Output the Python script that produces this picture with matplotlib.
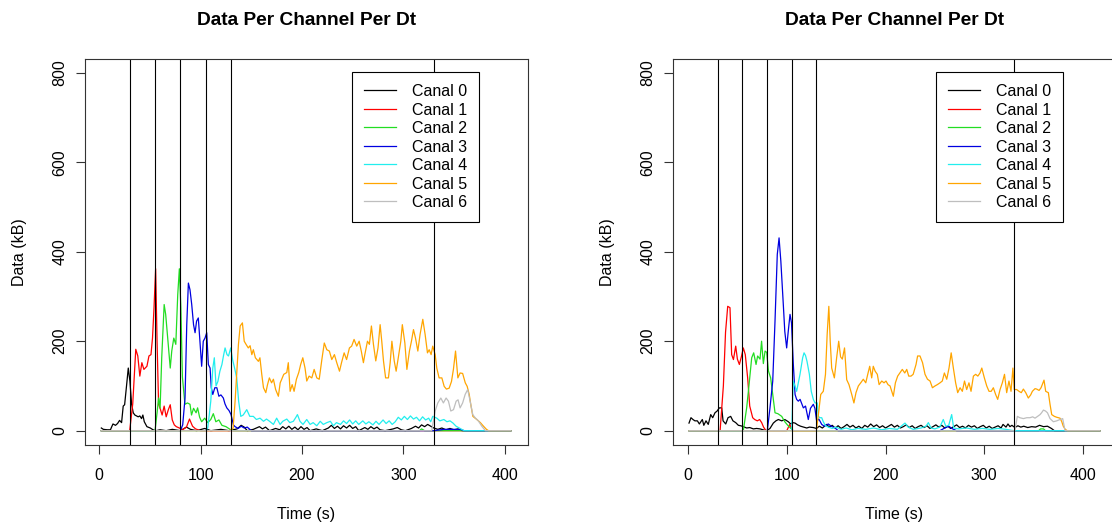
import matplotlib
matplotlib.use("Agg")
import matplotlib.pyplot as plt

plt.rcParams['font.family'] = ['Liberation Sans', 'DejaVu Sans']

# (time s, data kB) points
left_c0 = [(2, 6), (4, 3), (8, 2), (11, 2), (12.5, 10), (13.5, 15), (16, 12), (18, 16), (20, 23), (22, 18),
           (23.6, 55), (25, 58), (27, 103), (28.6, 140), (30.2, 111), (31.9, 59), (33.5, 40), (35.1, 35),
           (38.4, 31), (40, 33), (41.7, 27), (43, 35), (44.4, 20), (47, 9), (50.3, 6), (53, 2), (56, 0),
           (60, 2), (66, 0), (72, 3), (80, 0), (86, 8), (90, 3), (96, 0), (104, 5), (110, 0), (120, 3),
           (128, 0), (136, 4), (140, 12), (143, 8), (146, 0), (152, 3), (158, 9), (161, 4), (164, 8),
           (168, 0), (174, 5), (178, 2), (181, 9), (184, 4), (187, 10), (190, 3), (193, 8), (196, 2),
           (199, 9), (202, 3), (205, 7), (208, 0), (214, 4), (220, 0), (226, 6), (229, 12), (232, 5),
           (235, 10), (238, 4), (241, 11), (244, 6), (247, 12), (250, 5), (253, 9), (256, 0), (262, 7),
           (265, 3), (268, 9), (271, 4), (274, 8), (277, 2), (282, 0), (290, 4), (294, 7), (298, 2),
           (302, 0), (308, 5), (312, 10), (315, 6), (318, 13), (321, 9), (324, 14), (327, 10), (330, 6),
           (334, 3), (338, 6), (342, 2), (346, 5), (350, 2), (354, 4), (358, 0), (406, 0)]
left_c1 = [(2, 0), (30, 0), (33, 60), (36, 182), (38, 167), (40, 122), (42, 152), (44, 137), (47, 144),
           (49, 167), (51, 170), (52.5, 207), (54, 275), (55.6, 362), (57, 200), (58.5, 59), (60, 50),
           (62, 35), (64, 55), (66, 31), (68, 46), (70, 58), (72, 24), (74, 13), (76, 9), (79, 6), (82, 2),
           (86, 8), (89, 26), (92, 10), (95, 4), (100, 0), (406, 0)]
left_c2 = [(2, 0), (55, 0), (57, 40), (58.5, 73), (60, 50), (61.6, 163), (64, 282), (65.5, 260),
           (67.5, 207), (70, 140), (71.5, 178), (73.5, 207), (75.5, 193), (77.4, 304), (79, 362),
           (80.5, 275), (82, 120), (84.5, 59), (87, 62), (89.5, 59), (91, 35), (93, 50), (95.5, 40),
           (97, 51), (99, 30), (101, 20), (104, 28), (107, 18), (110, 25), (112.5, 38), (115, 20),
           (118, 24), (121, 12), (125, 9), (129, 3), (132, 0), (316, 0), (318, 4), (321, 0), (406, 0)]
left_c3 = [(2, 0), (80, 0), (82.3, 13), (84.6, 73), (86.3, 237), (87.9, 330), (89.5, 315), (91.2, 282),
           (93, 237), (94.5, 219), (96, 245), (97.7, 252), (99.3, 200), (101, 144), (102.6, 200),
           (104.3, 207), (106, 219), (107.6, 148), (109.3, 140), (110.5, 96), (112, 81), (114, 96),
           (116, 96), (118, 77), (120, 80), (122.4, 73), (124, 60), (125.8, 51), (128, 45), (130, 36),
           (132.3, 13), (134, 9), (137, 5), (140, 10), (143, 6), (146, 8), (150, 0), (330, 0), (340, 3),
           (356, 3), (360, 0), (406, 0)]
left_c4 = [(2, 0), (105, 0), (107, 6), (108.5, 35), (110, 66), (112, 140), (113.5, 163), (115.2, 100),
           (117, 110), (119, 133), (121, 148), (122.5, 167), (124.1, 185), (126, 170), (127.5, 167),
           (129.7, 185), (131.5, 159), (133.5, 140), (135.6, 118), (137.5, 66), (139.6, 32), (142, 35),
           (145.5, 47), (148.5, 32), (152, 32), (155, 25), (158.6, 28), (162, 21), (165, 26), (168, 21),
           (171.8, 14), (175, 28), (178.4, 14), (181, 21), (185, 26), (188, 18), (191.5, 21), (194, 30),
           (195.5, 36), (198, 21), (201, 14), (204.7, 25), (208, 14), (211, 18), (214.6, 11), (218, 21),
           (221, 14), (224.5, 18), (228, 21), (231, 11), (234, 18), (238, 14), (241, 22), (244, 16),
           (247, 24), (250, 15), (253, 22), (256, 14), (260, 22), (263, 15), (266, 20), (270, 13),
           (273, 21), (276, 14), (280, 24), (283, 16), (286, 22), (289, 14), (292, 20), (295, 30),
           (298, 24), (301, 32), (304, 25), (307, 33), (310, 26), (313, 30), (316, 22), (319, 31),
           (322, 24), (325, 28), (327, 20), (329, 32), (333, 28), (336, 22), (340, 25), (343, 20),
           (346, 22), (349, 17), (352, 10), (356, 5), (360, 0), (406, 0)]
left_c5 = [(2, 0), (128, 0), (132, 5), (134, 66), (137.3, 193), (139, 234), (141.2, 241), (143, 200),
           (144.8, 193), (147, 185), (148.8, 190), (150.5, 170), (152, 181), (154, 163), (157, 155),
           (158.5, 163), (160.3, 126), (162, 96), (164.3, 85), (166, 103), (167.8, 118), (170, 107),
           (171.8, 115), (174, 92), (176.7, 77), (178.5, 107), (180, 115), (182, 126), (185, 130),
           (186.5, 152), (188.3, 88), (190.3, 103), (192.2, 88), (194.5, 115), (196.8, 130), (198.7, 148),
           (200.8, 163), (203, 140), (204.7, 111), (207, 122), (209.7, 118), (212, 137), (214.6, 118),
           (217, 115), (219.6, 159), (222, 196), (224.5, 181), (227, 178), (229.4, 159), (232, 170),
           (234.3, 152), (237, 133), (239, 152), (241.6, 174), (244, 159), (246.8, 185), (249, 189),
           (251.4, 204), (254, 189), (256.4, 200), (258.5, 178), (260.6, 152), (262, 170), (264.6, 200),
           (266.5, 193), (268.5, 234), (270.5, 193), (272.8, 156), (275, 185), (277.1, 237), (278.7, 200),
           (280.4, 156), (282.5, 118), (285.3, 118), (287, 152), (288.7, 200), (291, 156), (292.9, 133),
           (295, 163), (297.5, 200), (299, 237), (301.5, 196), (303.5, 137), (306, 178), (308, 200),
           (310, 226), (312, 207), (314.3, 178), (316.5, 215), (319.2, 249), (321.5, 215), (323.8, 174),
           (325.5, 181), (327.4, 170), (329, 189), (331.4, 170), (333, 140), (335.3, 118), (338, 118),
           (340.3, 99), (342.5, 93), (345.2, 95), (347.5, 110), (349.4, 137), (351.5, 178), (353.8, 118),
           (356, 129), (358.5, 128), (361.1, 107), (363, 99), (365, 81), (366.5, 59), (368.6, 32),
           (372.5, 25), (376, 18), (379.1, 10), (382, 3), (384, 0), (406, 0)]
left_c6 = [(2, 0), (328, 0), (331.4, 44), (334, 62), (337, 73), (339.5, 62), (342.2, 73), (344.5, 66),
           (346.8, 44), (349.5, 47), (352.1, 66), (354, 69), (356, 51), (358.5, 62), (361, 81), (363.5, 92),
           (365.9, 66), (368.5, 36), (370.8, 29), (374, 22), (377.4, 10), (381, 0), (406, 0)]

right_c0 = [(1, 17), (3, 29), (5, 25), (7, 22), (9.5, 22), (11.5, 15), (14.5, 25), (16, 12), (18.2, 22),
            (20.5, 14), (23, 36), (25, 29), (27.3, 40), (29.5, 44), (31.7, 51), (34.1, 51), (35.5, 22),
            (38.2, 15), (40.5, 29), (43.2, 32), (45.5, 22), (48.3, 18), (51, 12), (53.4, 11), (56, 9),
            (59.4, 6), (62.5, 7), (66.2, 4), (69.5, 5), (72.9, 4), (76, 2), (79.7, 0), (83, 5), (85, 12),
            (86.4, 17), (89, 22), (91.5, 25), (94.9, 22), (98, 25), (101.6, 20), (104, 15), (106, 18),
            (108.4, 17), (111, 13), (114, 10), (117, 8), (120.2, 6), (123, 8), (126.9, 7), (130, 5),
            (133, 10), (136, 6), (140.4, 14), (143, 8), (146, 12), (149, 6), (152, 11), (155, 5), (158, 9),
            (161, 14), (164, 8), (167, 12), (170, 6), (173, 10), (176, 5), (179, 12), (182, 8), (185, 15),
            (188, 9), (191, 13), (194, 7), (197, 11), (200, 6), (203, 10), (206, 14), (209, 8), (212, 12),
            (215, 6), (218, 9), (221, 13), (224, 7), (227, 11), (230, 5), (233, 9), (236, 12), (239, 7),
            (242, 11), (245, 5), (248, 9), (251, 13), (254, 8), (257, 12), (260, 6), (263, 10), (266, 5),
            (269, 9), (272, 13), (275, 7), (278, 10), (281, 6), (284, 12), (287, 8), (290, 11), (293, 5),
            (296, 9), (299, 12), (302, 6), (305, 10), (308, 5), (311, 8), (314, 11), (317, 6), (319, 14),
            (322, 8), (324, 15), (326, 9), (328, 12), (331, 7), (334, 11), (337, 8), (340, 10), (344, 7),
            (348, 9), (352, 8), (356, 12), (360, 9), (364, 10), (368, 5), (371, 0), (417, 0)]
right_c1 = [(1, 0), (32.5, 0), (35.8, 100), (38, 220), (40.2, 278), (42.5, 275), (44.2, 170), (46, 159),
            (48.3, 189), (50, 160), (52, 148), (54, 165), (56, 185), (58, 170), (60.4, 118), (62.5, 55),
            (65.5, 29), (67.5, 25), (70.2, 22), (72.5, 25), (74.6, 18), (76.5, 8), (79, 0), (100, 0),
            (103, 14), (106, 0), (417, 0)]
right_c2 = [(1, 0), (56, 0), (59.4, 51), (61.5, 96), (64.5, 163), (66.5, 174), (68.9, 148), (70.5, 167),
            (72.9, 160), (74.5, 200), (76.3, 150), (78, 178), (79.7, 175), (81.5, 133), (83.7, 118),
            (85.8, 81), (88.1, 40), (91, 38), (94.9, 32), (98, 20), (101, 12), (103.3, 7), (106.6, 0),
            (355, 0), (357, 4), (360, 4), (362, 0), (417, 0)]
right_c3 = [(1, 0), (80.3, 0), (83, 51), (85.8, 111), (88.1, 245), (90.4, 394), (92.2, 431), (94, 379),
            (96.5, 282), (98, 222), (99.9, 185), (101.5, 222), (103.3, 260), (104.8, 241), (106.6, 150),
            (108.4, 81), (110, 70), (111.7, 66), (113.5, 70), (116.8, 51), (119, 55), (121.8, 25),
            (124, 50), (126.9, 59), (128.5, 50), (130.3, 21), (132.5, 26), (135.4, 14), (138, 10),
            (142.1, 15), (145, 10), (148.9, 6), (152, 0), (255, 0), (260, 6), (264, 10), (268, 4),
            (272, 0), (417, 0)]
right_c4 = [(1, 0), (105, 0), (106.6, 111), (108.3, 100), (110, 88), (113.4, 126), (116.1, 163),
            (117.5, 174), (119, 168), (120.5, 155), (122.9, 126), (124.8, 88), (126.9, 70), (128.6, 62),
            (130.9, 62), (132, 32), (133.5, 29), (135.4, 29), (137, 20), (139.2, 11), (142.1, 8), (146, 5),
            (150, 8), (155, 3), (160, 6), (166, 2), (172, 5), (180, 3), (188, 6), (196, 2), (204, 5),
            (212, 3), (219.7, 17), (223, 8), (228, 3), (236, 6), (241, 10), (243.4, 18), (246, 6),
            (250, 4), (255, 8), (258.5, 25), (261, 10), (264, 12), (267, 36), (269, 6), (274, 4), (282, 6),
            (290, 3), (298, 5), (306, 3), (314, 5), (322, 3), (330, 0), (417, 0)]
right_c5 = [(1, 0), (130, 0), (132, 36), (134.4, 81), (137, 88), (139.2, 126), (140.9, 215), (142.6, 278),
            (144, 200), (145.5, 140), (148.2, 118), (150.5, 163), (152.6, 200), (154.5, 165), (156.3, 160),
            (158.5, 185), (160.7, 114), (163, 103), (165.8, 81), (168, 62), (170.1, 85), (172.5, 100),
            (174.9, 107), (177.5, 115), (180, 107), (182, 126), (184, 144), (186, 118), (187.6, 144),
            (189.5, 133), (191.7, 126), (193.5, 103), (196.2, 111), (198.5, 107), (200.5, 111),
            (202.5, 103), (204.6, 100), (207.9, 77), (210, 107), (212.3, 122), (214.5, 129), (217, 137),
            (219.5, 129), (221.5, 137), (223.5, 122), (225.8, 122), (228, 126), (230.9, 148), (232.5, 167),
            (234.9, 167), (237.5, 152), (240, 126), (242.5, 115), (245.1, 111), (247.5, 96), (250.1, 100),
            (252.5, 103), (255.2, 107), (257.5, 111), (259.6, 129), (262, 115), (264.3, 140), (266.5, 174),
            (268.7, 140), (271, 107), (273.1, 85), (275.5, 96), (277.8, 88), (280, 111), (282.2, 92),
            (284.5, 107), (286.6, 88), (289, 122), (291.3, 126), (293.5, 122), (295.7, 129), (297.5, 140),
            (300.1, 118), (302.5, 100), (304.8, 88), (307, 88), (309.2, 96), (311.5, 81), (313.6, 70),
            (316, 92), (318.3, 107), (320.5, 126), (322.7, 85), (325, 111), (327.1, 88), (329, 140),
            (330.4, 92), (332.8, 92), (335.2, 88), (337.5, 85), (339.6, 93), (342, 85), (344.6, 73),
            (347, 80), (348.7, 88), (351.4, 94), (353.1, 93), (355.5, 90), (357.5, 96), (360.5, 113),
            (362.2, 88), (364.9, 85), (366.6, 59), (368.3, 36), (371, 32), (373.4, 30), (376.7, 28),
            (378.5, 20), (380, 10), (382, 3), (384, 0), (417, 0)]
right_c6 = [(1, 0), (331, 0), (333.5, 32), (336, 29), (339.6, 27), (343, 29), (346.3, 29), (349, 31),
            (351.4, 28), (354, 32), (356.5, 36), (358, 40), (359.9, 46), (362, 44), (364, 40), (366.6, 27),
            (370, 20), (373.4, 22), (376.7, 25), (379.4, 27), (381.8, 0), (417, 0)]

labels = ["Canal 0", "Canal 1", "Canal 2", "Canal 3", "Canal 4", "Canal 5", "Canal 6"]
colors = ["black", "#ff0000", "#22dd22", "#0000e0", "#22eeee", "#ffa500", "#bebebe"]
marks = [30, 55, 80, 105, 130, 330]

panels = [
    ([left_c0, left_c1, left_c2, left_c3, left_c4, left_c5, left_c6], 85, (-14.1, 423.0), 0.603),
    ([right_c0, right_c1, right_c2, right_c3, right_c4, right_c5, right_c6], 673, (-15.2, 433.4), 0.594),
]

fig = plt.figure(figsize=(11.12, 5.27), dpi=100)

for series, left_px, xlim, leg_x in panels:
    ax = fig.add_axes([left_px / 1112, 82 / 527, 443 / 1112, 386.5 / 527])
    handles = []
    for pts, col in zip(series, colors):
        t, v = zip(*pts)
        h, = ax.plot(t, v, color=col, lw=0.9)
        handles.append(h)
    for m in marks:
        ax.axvline(m, color="black", lw=0.8)

    ax.set_xlim(xlim)
    ax.set_ylim(-32, 832)
    ax.set_xticks([0, 100, 200, 300, 400])
    ax.set_yticks([0, 200, 400, 600, 800])
    ax.tick_params(direction="out", length=6.5, width=0.8, labelsize=11.5, color="#333333")
    ax.tick_params(axis="x", pad=10)
    ax.tick_params(axis="y", pad=6)
    plt.setp(ax.get_yticklabels(), rotation=90, va="center")
    for s in ax.spines.values():
        s.set_linewidth(0.8)
        s.set_color("#333333")

    ax.set_title("Data Per Channel Per Dt", fontweight="bold", fontsize=13.8, pad=24)
    ax.set_xlabel("Time (s)", fontsize=11.5)
    ax.set_ylabel("Data (kB)", fontsize=11.5)
    ax.xaxis.set_label_coords(0.5, -0.160)
    ax.yaxis.set_label_coords(-0.13, 0.5)

    leg = ax.legend(handles, labels, loc="upper left", bbox_to_anchor=(leg_x, 0.965), fontsize=11.5,
                    fancybox=False, framealpha=1, edgecolor="black", borderpad=0.75, labelspacing=0.22,
                    handlelength=2.0, handletextpad=1.0, borderaxespad=0)
    leg.get_frame().set_linewidth(0.8)

fig.savefig("out.png", dpi=100)
